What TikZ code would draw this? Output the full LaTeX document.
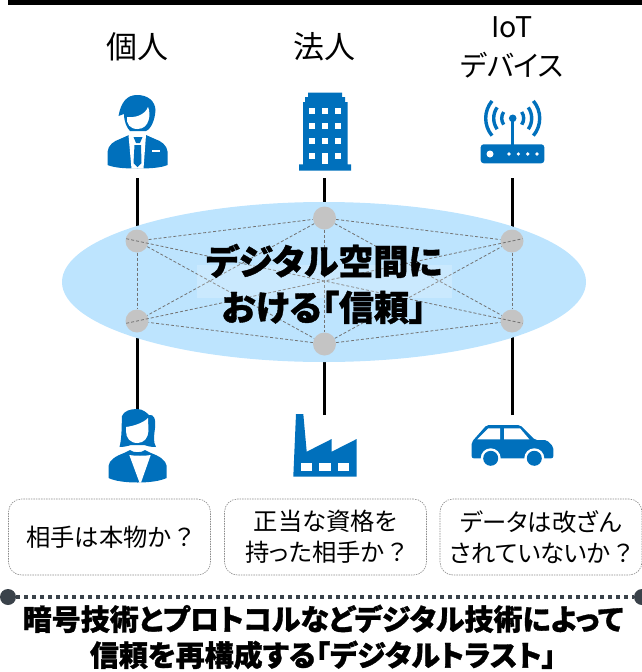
\documentclass[tikz,border=0pt]{standalone}
\usepackage{fontspec}
\setmainfont{Noto Sans CJK JP}[RawFeature=+palt,BoldFeatures={FakeBold=1.1}]
\usetikzlibrary{backgrounds,shapes.geometric}
\definecolor{iconblue}{HTML}{0070BC}
\definecolor{spaceblue}{HTML}{BDE4FE}
\definecolor{hubgray}{HTML}{C4C4C4}
\definecolor{dotdark}{HTML}{3A424A}
\tikzset{
  toplabel/.style={font=\fontsize{31}{39}\selectfont,align=center,inner sep=0pt},
  hub/.style={circle,fill=hubgray,minimum size=23pt,inner sep=0pt},
  link/.style={draw=black!55,line width=.8pt,dash pattern=on 3pt off 2pt},
  cross/.style={link,shorten <=-11pt,shorten >=-11pt},
  stem/.style={line width=3pt,color=black},
  askbox/.style={draw=black!45,line width=.6pt,dash pattern=on 1.5pt off 1pt,rounded corners=13pt,
    minimum width=202pt,minimum height=76pt,inner sep=0pt,align=center,
    font=\fontsize{24.3}{31}\selectfont},
  headline/.style={font=\bfseries\fontsize{29}{36}\selectfont,align=center,inner sep=0pt},
}
\def\mywin#1#2#3#4{
  % 1: x left
  % 2: y top
  % 3: width
  % 4: height
  \fill[white] (#1,#2) rectangle +(#3,#4);
}
\begin{document}
\begin{tikzpicture}[x=1pt,y=-1pt]
    \useasboundingbox (0,0) rectangle (642,672);
    \draw[line width=5pt,color=black] (8,2.5) -- (642,2.5);

    \node [toplabel] (kojin) at (137,47) {個人};
    \node [toplabel] (hojin) at (324,47) {法人};
    \node [toplabel,font=\fontsize{28.5}{39}\selectfont] (iot) at (512,47.5) {IoT\\デバイス};

    % man
    \fill[iconblue] (118.5,116) .. controls (121,102) and (127,95) .. (137,95) .. controls (148,95) and (155,101) .. (155.5,110) .. controls (155,120) and (151,129) .. (146,131) -- (130,131) .. controls (127,128) and (124,122) .. (124,114) -- cycle;
    \fill[white] (127,117) .. controls (135,118) and (145,115) .. (148,107) .. controls (151,113) and (150,129) .. (137.5,129) .. controls (130,129) and (126,124) .. (127,117) -- cycle;
    \fill[iconblue] (107.5,165) -- (107.5,152) .. controls (108,145) and (114,141) .. (120,139) -- (129,135) -- (146,135) -- (155,139) .. controls (161,141) and (167,145) .. (167.7,152) -- (167.7,165) .. controls (160,168) and (150,168.5) .. (137.5,168.5) .. controls (125,168.5) and (115,168) .. (107.5,165) -- cycle;
    \fill[white] (128.5,135) -- (146,135) -- (143.5,168.6) -- (131.5,168.6) -- cycle;
    \fill[iconblue] (133.5,137) -- (142.5,137) -- (140,143) -- (136,143) -- cycle;
    \fill[iconblue] (134.5,145) -- (141,145) -- (141.5,163) -- (137.5,167) -- (133.5,163) -- cycle;
    \mywin{151.7}{150}{8.3}{2}

    % building
    \fill[iconblue] (299,170.7) -- (299,164.3) -- (303,164.3) -- (303,102) -- (305,102) -- (305,97) -- (308,97) -- (308,92.5) -- (342,92.5) -- (342,97) -- (345,97) -- (345,102) -- (347.7,102) -- (347.7,164.3) -- (351,164.3) -- (351,170.7) -- cycle;
    \mywin{309.2}{108}{5.5}{5.5} \mywin{322.2}{108}{5.5}{5.5} \mywin{335.2}{108}{5.5}{5.5}
    \mywin{309.2}{123}{5.5}{5.5} \mywin{322.2}{123}{5.5}{5.5} \mywin{335.2}{123}{5.5}{5.5}
    \mywin{309.2}{138}{5.5}{5.5} \mywin{322.2}{138}{5.5}{5.5} \mywin{335.2}{138}{5.5}{5.5}
    \mywin{309.2}{153}{5.5}{5.5} \mywin{322.3}{153}{5.4}{11}  \mywin{335.2}{153}{5.5}{5.5}

    % router
    \fill[iconblue,rounded corners=3pt] (480.7,144.3) rectangle (544.3,163.3);
    \draw[iconblue,line width=2.6pt] (512.7,120) -- (512.7,145);
    \fill[iconblue] (512.7,118.3) circle (3.8);
    \draw[iconblue,line width=3.4pt] (512.7,118.3) ++(145:11) arc (145:215:11);
    \draw[iconblue,line width=3.4pt] (512.7,118.3) ++(145:19) arc (145:215:19);
    \draw[iconblue,line width=3.4pt] (512.7,118.3) ++(140:27) arc (140:220:27);
    \draw[iconblue,line width=3.4pt] (512.7,118.3) ++(35:11) arc (35:-35:11);
    \draw[iconblue,line width=3.4pt] (512.7,118.3) ++(35:19) arc (35:-35:19);
    \draw[iconblue,line width=3.4pt] (512.7,118.3) ++(40:27) arc (40:-40:27);
    \fill[white] (490,154) circle (3.5) (509,154) circle (1.8) (518.3,154) circle (1.8) (527.7,154) circle (1.8) (537,154) circle (1.8);

    % space and hubs
    \node [ellipse,fill=spaceblue,minimum width=524pt,minimum height=160pt,inner sep=0pt] (space) at (324,282) {};
    \node [hub] (lefttop) at (137,241) {};
    \node [hub] (midtop) at (324.5,218) {};
    \node [hub] (righttop) at (512,241) {};
    \node [hub] (leftbot) at (137,321) {};
    \node [hub] (midbot) at (324.5,344) {};
    \node [hub] (rightbot) at (512,321) {};

    \coordinate (mantail) at (137,178);
    \coordinate (blgtail) at (324.5,178);
    \coordinate (rtrtail) at (512,178);
    \coordinate (womtail) at (137,410);
    \coordinate (factail) at (324.5,415);
    \coordinate (cartail) at (512,415);
    \begin{pgfonlayer}{background}
      \draw[stem] (mantail) -- (lefttop.center);
      \draw[stem] (blgtail) -- (midtop.center);
      \draw[stem] (rtrtail) -- (righttop.center);
      \draw[stem] (womtail) -- (leftbot.center);
      \draw[stem] (factail) -- (midbot.center);
      \draw[stem] (cartail) -- (rightbot.center);
    \end{pgfonlayer}

    \draw[link] (lefttop) -- (midtop);
    \draw[link] (lefttop) -- (leftbot);
    \draw[link] (lefttop) -- (midbot);
    \draw[link] (midtop) -- (midbot);
    \draw[link] (midtop) -- (leftbot);
    \draw[link] (midtop) -- (righttop);
    \draw[link] (midtop) -- (rightbot);
    \draw[link] (midbot) -- (leftbot);
    \draw[link] (midbot) -- (righttop);
    \draw[link] (midbot) -- (rightbot);
    \draw[link] (righttop) -- (rightbot);
    \draw[cross] (lefttop.center) -- (rightbot.center);
    \draw[cross] (leftbot.center) -- (righttop.center);

    \fill[white,opacity=.2] (197,265) rectangle (452,298);
    \node [font=\bfseries\fontsize{35}{46}\selectfont,align=center,inner sep=0pt] (trust) at (324,284) {デジタル空間に\\おける「信頼」};

    % woman
    \fill[iconblue] (119.5,447) .. controls (122,438) and (121.5,425) .. (122,416) .. controls (124,411) and (130,409) .. (137,409) .. controls (143,409) and (147,413) .. (149,415) .. controls (154,414) and (156,419) .. (155,428) .. controls (154,436) and (153,442) .. (156,447) .. controls (150,447) and (147,446) .. (144,445) -- (131,445) .. controls (128,446) and (124,447) .. (119.5,447) -- cycle;
    \fill[white] (126,427) .. controls (134,426) and (143,423) .. (148,418) -- (148.5,431) .. controls (148,438) and (144,443) .. (137.5,443) .. controls (130,443) and (126,438) .. (126,431) -- cycle;
    \fill[iconblue] (108.5,478) -- (108.5,466) .. controls (109,460) and (116,456) .. (124,453) -- (130,450) .. controls (133,453) and (142,453) .. (145,450) -- (151,453) .. controls (159,456) and (166,460) .. (166.7,466) -- (166.7,478) .. controls (160,481) and (150,482.5) .. (137.5,482.5) .. controls (125,482.5) and (115,481) .. (108.5,478) -- cycle;
    \fill[white] (129.3,455) .. controls (135,456) and (145,456) .. (150.7,455) -- (141,482.6) -- (139.5,482.6) -- cycle;

    % factory
    \fill[iconblue] (293.3,476.7) -- (296,414) -- (303.3,414) -- (306.7,451.7) -- (331.7,439) -- (331.7,451.7) -- (356.7,439) -- (356.7,476.7) -- cycle;
    \mywin{300.7}{462.7}{11.6}{8.4} \mywin{319.3}{462.7}{11.4}{8.4} \mywin{338}{462.7}{11.3}{8.4}

    % car
    \fill[iconblue,rounded corners=2pt] (471.7,442) -- (486.7,425) -- (520,425) -- (535,440) -- (546.7,440) -- (553.3,446.7) -- (553.3,458.3) -- (471.7,458.3) -- cycle;
    \fill[white] (477.3,439.3) -- (488.3,428.3) -- (500,428.3) -- (500,439.3) -- cycle;
    \fill[white] (504,428.3) -- (520,428.3) -- (529.3,439.3) -- (504,439.3) -- cycle;
    \fill[white] (490.7,458.3) circle (10) (534.3,458.3) circle (10);
    \fill[iconblue] (490.7,458.3) circle (7.5) (534.3,458.3) circle (7.5);

    \node [askbox] (askperson) at (109.5,537) {相手は本物か\,？};
    \node [askbox] (askcorp) at (325.5,537) {正当な資格を\\持った相手か\,？};
    \node [askbox] (askdata) at (541,537) {データは改ざん\\されていないか\,？};

    \node [circle,fill=dotdark,minimum size=16pt,inner sep=0pt] (dotleft) at (8,597) {};
    \node [circle,fill=dotdark,minimum size=16pt,inner sep=0pt] (dotright) at (642,597) {};
    \draw[color=dotdark,line width=4pt,dash pattern=on 4pt off 4pt] (dotleft) -- (dotright);

    \node [headline] (closing) at (323,637) {暗号技術とプロトコルなどデジタル技術によって\\信頼を再構成する「デジタルトラスト」};
  \end{tikzpicture}
\end{document}
